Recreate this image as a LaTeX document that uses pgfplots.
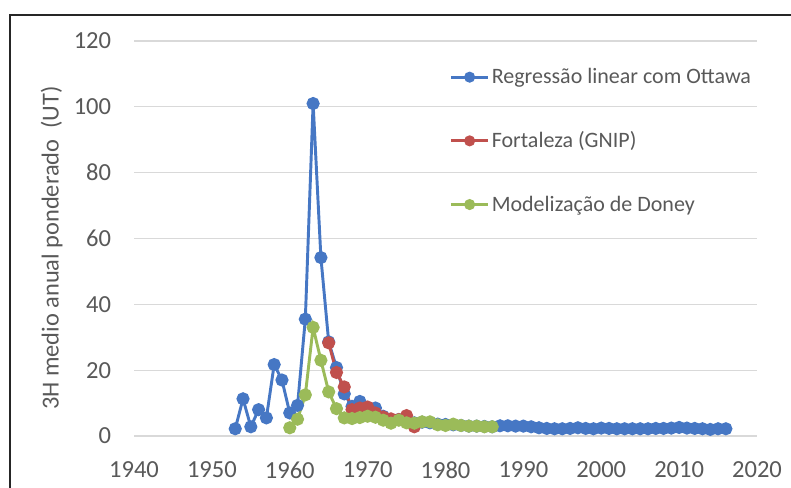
\documentclass[border=0pt]{standalone}
\usepackage{pgfplots}
\pgfplotsset{compat=1.18}
\usepackage{fontspec}
\setmainfont{Carlito}
\definecolor{sblue}{HTML}{4677C4}
\definecolor{sred}{HTML}{C0504D}
\definecolor{sgreen}{HTML}{9BBB59}
\definecolor{gridc}{HTML}{D9D9D9}
\definecolor{txt}{HTML}{595959}
\begin{document}
\begin{tikzpicture}
\useasboundingbox (0,0) rectangle (593.25pt,366pt);
\begin{scope}
\clip (0,0) rectangle (593.25pt,366pt);
\draw[line width=1.6pt, black!85] (7.5pt,-10pt) rectangle (610pt,354.75pt);
\end{scope}
\begin{axis}[
  at={(100.5pt,39pt)}, anchor=south west,
  scale only axis, width=467.25pt, height=296.25pt,
  xmin=1940, xmax=2020, ymin=0, ymax=120,
  xtick={1940,1950,...,2020}, ytick={0,20,...,120},
  /pgf/number format/assume math mode=true,
  xticklabel={\pgfmathprintnumber[1000 sep={}]{\tick}},
  tick style={draw=none},
  axis x line*=bottom, axis y line*=left,
  x axis line style={gridc, line width=0.9pt, -},
  y axis line style={draw=none},
  ymajorgrids, grid style={gridc, line width=0.9pt},
  every tick label/.append style={font=\fontsize{18.4}{20}\selectfont, text=txt, inner sep=0pt},
  xticklabel style={anchor=north, yshift=-19pt},
  yticklabel style={anchor=east, xshift=-17pt},
  ylabel={3H medio anual ponderado\ \ (UT)},
  ylabel style={font=\fontsize{18.3}{20}\selectfont, text=txt, at={(axis description cs:-0.132,0.476)}, anchor=center, rotate=0},
  legend style={at={(axis description cs:0.506,0.936)}, anchor=north west, draw=none, fill=none,
    font=\fontsize{16.5}{20}\selectfont, text=txt, row sep=31.5pt, inner sep=0pt,
    nodes={inner sep=1.5pt}},
  legend cell align=left,
  legend image code/.code={\draw[#1, mark repeat=2, mark phase=2, mark size=3pt] plot coordinates {(0pt,0pt) (14pt,0pt) (28pt,0pt)};},
  every axis plot/.append style={line width=2.2pt, mark=*, mark size=3.8pt},
]
\addplot[sblue, mark options={fill=sblue, draw=sblue}] coordinates {
(1953,2.2)(1954,11.3)(1955,2.8)(1956,8.0)(1957,5.5)(1958,21.7)(1959,17.0)(1960,7.0)
(1961,9.3)(1962,35.5)(1963,101)(1964,54.2)(1965,28.6)(1966,20.8)(1967,12.8)(1968,9.0)
(1969,10.5)(1970,8.0)(1971,8.5)(1972,6.0)(1973,5.0)(1974,5.0)(1975,4.5)(1976,4.0)
(1977,4.2)(1978,4.0)(1979,3.6)(1980,3.5)(1981,3.4)(1982,3.2)(1983,3.0)(1984,3.0)
(1985,2.9)(1986,2.8)(1987,3.1)(1988,3.1)(1989,3.0)(1990,3.0)(1991,2.8)(1992,2.5)
(1993,2.3)(1994,2.2)(1995,2.2)(1996,2.3)(1997,2.5)(1998,2.3)(1999,2.2)(2000,2.4)
(2001,2.3)(2002,2.2)(2003,2.2)(2004,2.2)(2005,2.2)(2006,2.2)(2007,2.3)(2008,2.3)
(2009,2.4)(2010,2.6)(2011,2.4)(2012,2.3)(2013,2.2)(2014,2.0)(2015,2.2)(2016,2.2)
};
\addlegendentry{Regressão linear com Ottawa}
\addplot[sred, mark options={fill=sred, draw=sred}] coordinates {
(1965,28.3)(1966,19.3)(1967,14.9)(1968,8.0)(1969,8.5)(1970,8.8)(1971,7.0)(1972,5.8)
(1973,5.2)(1974,5.0)(1975,6.2)(1976,2.8)
};
\addlegendentry{Fortaleza (GNIP)}
\addplot[sgreen, mark options={fill=sgreen, draw=sgreen}] coordinates {
(1960,2.5)(1961,5.1)(1962,12.5)(1963,33.0)(1964,23.0)(1965,13.4)(1966,8.3)(1967,5.5)
(1968,5.3)(1969,5.6)(1970,6.0)(1971,5.7)(1972,4.8)(1973,3.9)(1974,4.8)(1975,4.0)
(1976,3.9)(1977,4.3)(1978,4.3)(1979,3.4)(1980,3.2)(1981,3.6)(1982,3.2)(1983,3.0)
(1984,3.0)(1985,2.8)(1986,2.8)
};
\addlegendentry{Modelização de Doney}
\end{axis}
\end{tikzpicture}
\end{document}
